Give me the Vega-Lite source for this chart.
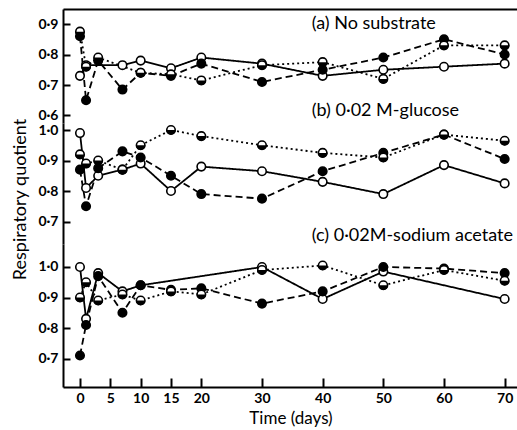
{
  "$schema": "https://vega.github.io/schema/vega-lite/v6.json",
  "autosize": {"type": "pad"},
  "padding": {"left": 10, "top": 9, "right": 1, "bottom": 1},
  "background": "white",
  "spacing": 0,
  "bounds": "flush",
  "config": {
    "font": "Lato",
    "view": {"stroke": null},
    "axis": {
      "grid": false,
      "domainColor": "black",
      "domainWidth": 2,
      "tickColor": "black",
      "tickWidth": 2,
      "labelColor": "black",
      "labelFont": "Lato",
      "labelFontSize": 14,
      "labelFontWeight": "bold",
      "titleColor": "black",
      "titleFont": "Lato",
      "titleFontSize": 18,
      "titleFontWeight": "normal"
    }
  },
  "datasets": {
    "points": [
      {"panel": "a", "series": "open", "day": 0, "rq": 0.73},
      {"panel": "a", "series": "open", "day": 1, "rq": 0.765},
      {"panel": "a", "series": "open", "day": 7, "rq": 0.765},
      {"panel": "a", "series": "open", "day": 10, "rq": 0.78},
      {"panel": "a", "series": "open", "day": 15, "rq": 0.755},
      {"panel": "a", "series": "open", "day": 20, "rq": 0.79},
      {"panel": "a", "series": "open", "day": 30, "rq": 0.77},
      {"panel": "a", "series": "open", "day": 40, "rq": 0.73},
      {"panel": "a", "series": "open", "day": 50, "rq": 0.75},
      {"panel": "a", "series": "open", "day": 60, "rq": 0.76},
      {"panel": "a", "series": "open", "day": 70, "rq": 0.77},
      {"panel": "a", "series": "filled", "day": 0, "rq": 0.86},
      {"panel": "a", "series": "filled", "day": 1, "rq": 0.65},
      {"panel": "a", "series": "filled", "day": 3, "rq": 0.78},
      {"panel": "a", "series": "filled", "day": 7, "rq": 0.685},
      {"panel": "a", "series": "filled", "day": 10, "rq": 0.74},
      {"panel": "a", "series": "filled", "day": 15, "rq": 0.73},
      {"panel": "a", "series": "filled", "day": 20, "rq": 0.77},
      {"panel": "a", "series": "filled", "day": 30, "rq": 0.71},
      {"panel": "a", "series": "filled", "day": 40, "rq": 0.75},
      {"panel": "a", "series": "filled", "day": 50, "rq": 0.79},
      {"panel": "a", "series": "filled", "day": 60, "rq": 0.85},
      {"panel": "a", "series": "filled", "day": 70, "rq": 0.80},
      {"panel": "a", "series": "half", "day": 0, "rq": 0.875},
      {"panel": "a", "series": "half", "day": 1, "rq": 0.76},
      {"panel": "a", "series": "half", "day": 3, "rq": 0.79},
      {"panel": "a", "series": "half", "day": 10, "rq": 0.74},
      {"panel": "a", "series": "half", "day": 15, "rq": 0.735},
      {"panel": "a", "series": "half", "day": 20, "rq": 0.715},
      {"panel": "a", "series": "half", "day": 30, "rq": 0.765},
      {"panel": "a", "series": "half", "day": 40, "rq": 0.775},
      {"panel": "a", "series": "half", "day": 50, "rq": 0.72},
      {"panel": "a", "series": "half", "day": 60, "rq": 0.83},
      {"panel": "a", "series": "half", "day": 70, "rq": 0.83},

      {"panel": "b", "series": "open", "day": 0, "rq": 0.99},
      {"panel": "b", "series": "open", "day": 1, "rq": 0.81},
      {"panel": "b", "series": "open", "day": 3, "rq": 0.85},
      {"panel": "b", "series": "open", "day": 7, "rq": 0.87},
      {"panel": "b", "series": "open", "day": 10, "rq": 0.89},
      {"panel": "b", "series": "open", "day": 15, "rq": 0.80},
      {"panel": "b", "series": "open", "day": 20, "rq": 0.88},
      {"panel": "b", "series": "open", "day": 30, "rq": 0.865},
      {"panel": "b", "series": "open", "day": 40, "rq": 0.83},
      {"panel": "b", "series": "open", "day": 50, "rq": 0.79},
      {"panel": "b", "series": "open", "day": 60, "rq": 0.885},
      {"panel": "b", "series": "open", "day": 70, "rq": 0.825},
      {"panel": "b", "series": "filled", "day": 0, "rq": 0.87},
      {"panel": "b", "series": "filled", "day": 1, "rq": 0.75},
      {"panel": "b", "series": "filled", "day": 3, "rq": 0.875},
      {"panel": "b", "series": "filled", "day": 7, "rq": 0.93},
      {"panel": "b", "series": "filled", "day": 10, "rq": 0.91},
      {"panel": "b", "series": "filled", "day": 15, "rq": 0.85},
      {"panel": "b", "series": "filled", "day": 20, "rq": 0.79},
      {"panel": "b", "series": "filled", "day": 30, "rq": 0.775},
      {"panel": "b", "series": "filled", "day": 40, "rq": 0.865},
      {"panel": "b", "series": "filled", "day": 50, "rq": 0.925},
      {"panel": "b", "series": "filled", "day": 60, "rq": 0.985},
      {"panel": "b", "series": "filled", "day": 70, "rq": 0.905},
      {"panel": "b", "series": "half", "day": 0, "rq": 0.92},
      {"panel": "b", "series": "half", "day": 1, "rq": 0.89},
      {"panel": "b", "series": "half", "day": 3, "rq": 0.90},
      {"panel": "b", "series": "half", "day": 7, "rq": 0.87},
      {"panel": "b", "series": "half", "day": 10, "rq": 0.95},
      {"panel": "b", "series": "half", "day": 15, "rq": 1.0},
      {"panel": "b", "series": "half", "day": 20, "rq": 0.98},
      {"panel": "b", "series": "half", "day": 30, "rq": 0.95},
      {"panel": "b", "series": "half", "day": 40, "rq": 0.925},
      {"panel": "b", "series": "half", "day": 50, "rq": 0.91},
      {"panel": "b", "series": "half", "day": 60, "rq": 0.985},
      {"panel": "b", "series": "half", "day": 70, "rq": 0.965},

      {"panel": "c", "series": "open", "day": 0, "rq": 1.0},
      {"panel": "c", "series": "open", "day": 1, "rq": 0.83},
      {"panel": "c", "series": "open", "day": 3, "rq": 0.98},
      {"panel": "c", "series": "open", "day": 7, "rq": 0.92},
      {"panel": "c", "series": "open", "day": 10, "rq": 0.94},
      {"panel": "c", "series": "open", "day": 30, "rq": 1.0},
      {"panel": "c", "series": "open", "day": 40, "rq": 0.895},
      {"panel": "c", "series": "open", "day": 50, "rq": 0.985},
      {"panel": "c", "series": "open", "day": 70, "rq": 0.895},
      {"panel": "c", "series": "filled", "day": 0, "rq": 0.71},
      {"panel": "c", "series": "filled", "day": 1, "rq": 0.81},
      {"panel": "c", "series": "filled", "day": 3, "rq": 0.97},
      {"panel": "c", "series": "filled", "day": 7, "rq": 0.85},
      {"panel": "c", "series": "filled", "day": 10, "rq": 0.94},
      {"panel": "c", "series": "filled", "day": 15, "rq": 0.925},
      {"panel": "c", "series": "filled", "day": 20, "rq": 0.93},
      {"panel": "c", "series": "filled", "day": 30, "rq": 0.88},
      {"panel": "c", "series": "filled", "day": 40, "rq": 0.92},
      {"panel": "c", "series": "filled", "day": 50, "rq": 1.0},
      {"panel": "c", "series": "filled", "day": 60, "rq": 0.995},
      {"panel": "c", "series": "filled", "day": 70, "rq": 0.98},
      {"panel": "c", "series": "half", "day": 0, "rq": 0.90},
      {"panel": "c", "series": "half", "day": 1, "rq": 0.95},
      {"panel": "c", "series": "half", "day": 3, "rq": 0.89},
      {"panel": "c", "series": "half", "day": 7, "rq": 0.91},
      {"panel": "c", "series": "half", "day": 10, "rq": 0.89},
      {"panel": "c", "series": "half", "day": 15, "rq": 0.92},
      {"panel": "c", "series": "half", "day": 20, "rq": 0.91},
      {"panel": "c", "series": "half", "day": 30, "rq": 0.99},
      {"panel": "c", "series": "half", "day": 40, "rq": 1.005},
      {"panel": "c", "series": "half", "day": 50, "rq": 0.94},
      {"panel": "c", "series": "half", "day": 60, "rq": 0.99},
      {"panel": "c", "series": "half", "day": 70, "rq": 0.955}
    ],
    "labels": [
      {"panel": "a", "day": 38.2, "rq": 0.9, "text": "(a)  No substrate"},
      {"panel": "a", "day": 38.2, "rq": 0.614, "text": "(b)  0·02 M-glucose"},
      {"panel": "b", "day": 38.2, "rq": 0.6525, "text": "(c)  0·02M-sodium acetate"}
    ]
  },
  "vconcat": [
    {
      "width": 455,
      "height": 114,
      "encoding": {
        "x": {"field": "day", "type": "quantitative", "scale": {"domain": [-2.8, 72.2], "nice": false, "zero": false},
              "axis": {"orient": "top", "labels": false, "ticks": false, "title": null, "domain": true}},
        "y": {"field": "rq", "type": "quantitative", "scale": {"domain": [0.5754, 0.9492], "nice": false, "zero": false},
              "axis": {"values": [0.6, 0.7, 0.8, 0.9], "labelExpr": "replace(format(datum.value, '.1f'), '.', '·')", "title": null, "tickSize": -7, "labelPadding": 12}}
      },
      "layer": [
        {"data": {"name": "points"}, "transform": [{"filter": "datum.panel === 'a'"}],
         "mark": {"type": "line", "color": "black", "strokeWidth": 1.8},
         "encoding": {"detail": {"field": "series"},
           "strokeDash": {"field": "series", "type": "nominal", "scale": {"domain": ["open", "filled", "half"], "range": [[1, 0], [7, 4], [2, 3]]}, "legend": null}}},
        {"data": {"name": "points"}, "transform": [{"filter": "datum.panel === 'a'"}],
         "mark": {"type": "point", "shape": "circle", "filled": true, "size": 72, "stroke": "black", "strokeWidth": 1.6, "opacity": 1},
         "encoding": {"fill": {"field": "series", "type": "nominal", "scale": {"domain": ["open", "filled", "half"], "range": ["white", "black", "white"]}, "legend": null}}},
        {"data": {"name": "points"}, "transform": [{"filter": "datum.panel === 'a' && datum.series === 'half'"}],
         "mark": {"type": "point", "shape": "M -1 0 A 1 1 0 0 0 1 0 Z", "filled": true, "size": 88, "color": "black", "opacity": 1}},
        {"data": {"name": "labels"}, "transform": [{"filter": "datum.panel === 'a'"}],
         "mark": {"type": "text", "align": "left", "baseline": "middle", "font": "Lato", "fontSize": 18, "color": "black"},
         "encoding": {"text": {"field": "text"}}}
      ]
    },
    {
      "width": 455,
      "height": 121,
      "encoding": {
        "x": {"field": "day", "type": "quantitative", "scale": {"domain": [-2.8, 72.2], "nice": false, "zero": false}, "axis": null},
        "y": {"field": "rq", "type": "quantitative", "scale": {"domain": [0.6263, 1.023], "nice": false, "zero": false},
              "axis": {"values": [0.7, 0.8, 0.9, 1.0], "labelExpr": "replace(format(datum.value, '.1f'), '.', '·')", "title": "Respiratory quotient", "tickSize": -7, "labelPadding": 12,
                       "titleX": -43, "titleY": 76, "titleBaseline": "middle", "titleAngle": -90}}
      },
      "layer": [
        {"data": {"name": "points"}, "transform": [{"filter": "datum.panel === 'b'"}],
         "mark": {"type": "line", "color": "black", "strokeWidth": 1.8},
         "encoding": {"detail": {"field": "series"},
           "strokeDash": {"field": "series", "type": "nominal", "scale": {"domain": ["open", "filled", "half"], "range": [[1, 0], [7, 4], [2, 3]]}, "legend": null}}},
        {"data": {"name": "points"}, "transform": [{"filter": "datum.panel === 'b'"}],
         "mark": {"type": "point", "shape": "circle", "filled": true, "size": 72, "stroke": "black", "strokeWidth": 1.6, "opacity": 1},
         "encoding": {"fill": {"field": "series", "type": "nominal", "scale": {"domain": ["open", "filled", "half"], "range": ["white", "black", "white"]}, "legend": null}}},
        {"data": {"name": "points"}, "transform": [{"filter": "datum.panel === 'b' && datum.series === 'half'"}],
         "mark": {"type": "point", "shape": "M -1 0 A 1 1 0 0 0 1 0 Z", "filled": true, "size": 88, "color": "black", "opacity": 1}},
        {"data": {"name": "labels"}, "transform": [{"filter": "datum.panel === 'b'"}],
         "mark": {"type": "text", "align": "left", "baseline": "middle", "font": "Lato", "fontSize": 18, "color": "black"},
         "encoding": {"text": {"field": "text"}}}
      ]
    },
    {
      "width": 455,
      "height": 143,
      "encoding": {
        "x": {"field": "day", "type": "quantitative", "scale": {"domain": [-2.8, 72.2], "nice": false, "zero": false},
              "axis": {"values": [0, 5, 10, 15, 20, 30, 40, 50, 60, 70], "tickSize": -9, "labelPadding": 13, "title": "Time (days)", "titlePadding": 5, "titleFontSize": 17}},
        "y": {"field": "rq", "type": "quantitative", "scale": {"domain": [0.6066, 1.0754], "nice": false, "zero": false},
              "axis": {"values": [0.7, 0.8, 0.9, 1.0], "labelExpr": "replace(format(datum.value, '.1f'), '.', '·')", "title": null, "tickSize": -7, "labelPadding": 12}}
      },
      "layer": [
        {"data": {"name": "points"}, "transform": [{"filter": "datum.panel === 'c'"}],
         "mark": {"type": "line", "color": "black", "strokeWidth": 1.8},
         "encoding": {"detail": {"field": "series"},
           "strokeDash": {"field": "series", "type": "nominal", "scale": {"domain": ["open", "filled", "half"], "range": [[1, 0], [7, 4], [2, 3]]}, "legend": null}}},
        {"data": {"name": "points"}, "transform": [{"filter": "datum.panel === 'c'"}],
         "mark": {"type": "point", "shape": "circle", "filled": true, "size": 72, "stroke": "black", "strokeWidth": 1.6, "opacity": 1},
         "encoding": {"fill": {"field": "series", "type": "nominal", "scale": {"domain": ["open", "filled", "half"], "range": ["white", "black", "white"]}, "legend": null}}},
        {"data": {"name": "points"}, "transform": [{"filter": "datum.panel === 'c' && datum.series === 'half'"}],
         "mark": {"type": "point", "shape": "M -1 0 A 1 1 0 0 0 1 0 Z", "filled": true, "size": 88, "color": "black", "opacity": 1}}
      ]
    }
  ]
}
